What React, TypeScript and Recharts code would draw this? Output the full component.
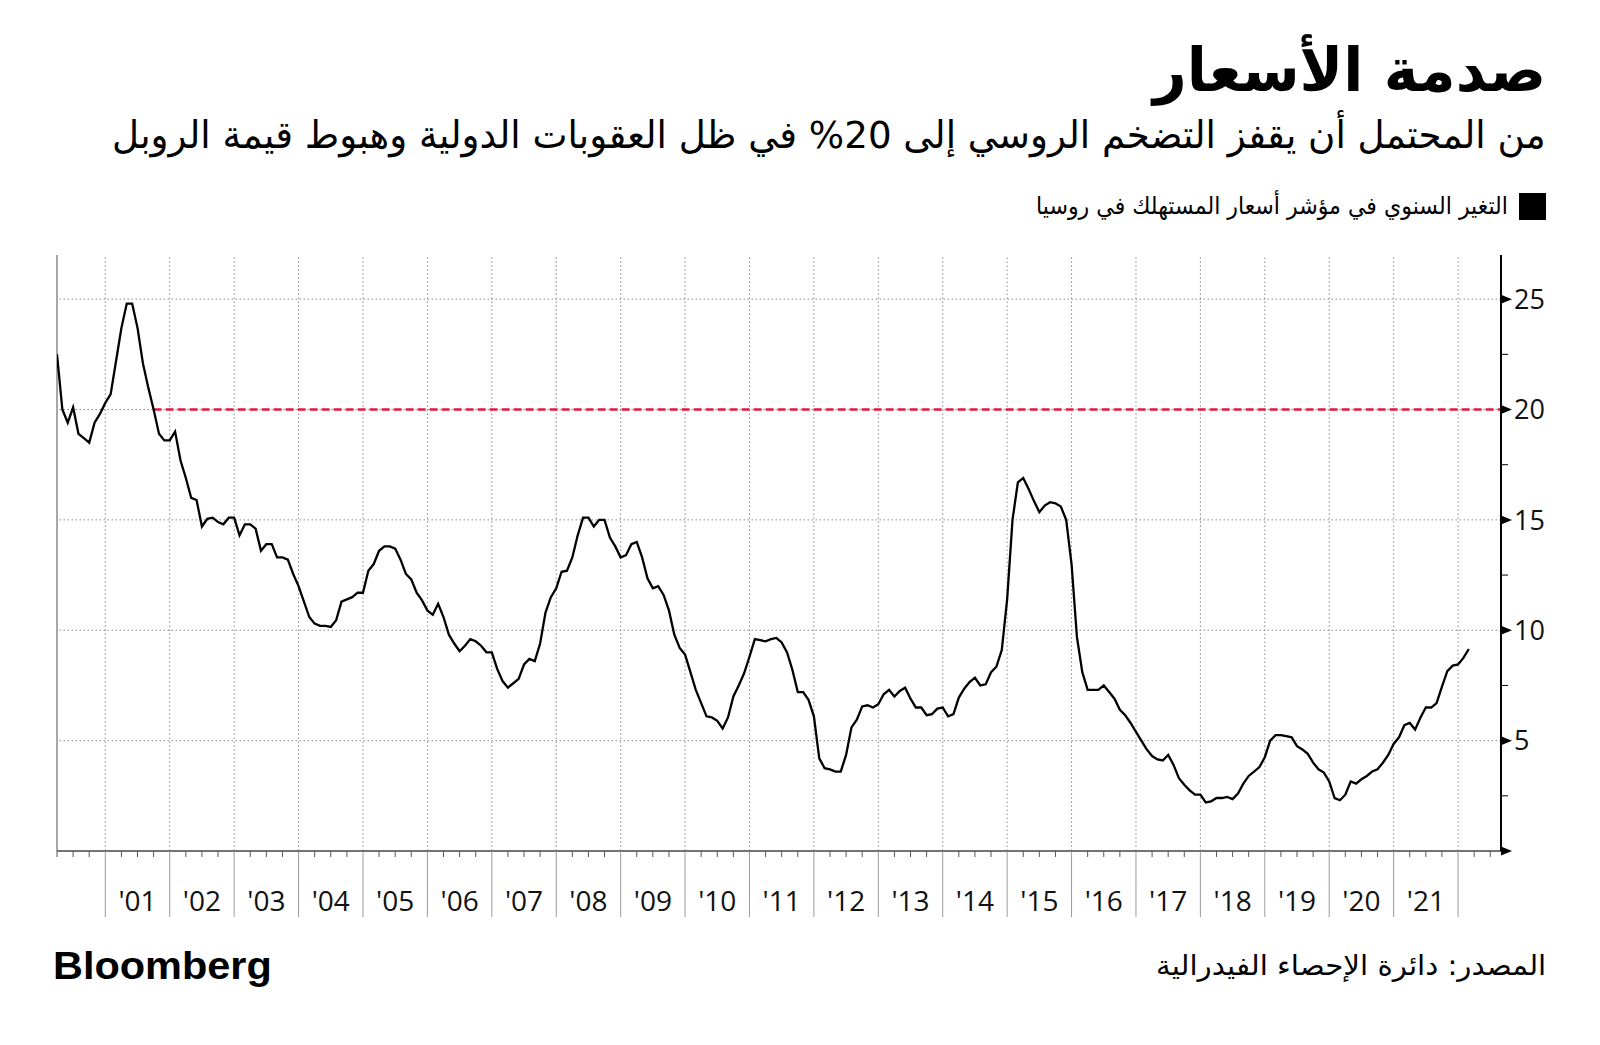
import React, { useLayoutEffect, useRef, useState } from 'react';
import { LineChart, Line, XAxis, YAxis, ReferenceLine } from 'recharts';

// Russian CPI, % change on a year earlier, monthly (2000 starts in March)
const cpi2000 = [22.5, 20.0, 19.4, 20.1, 18.9, 18.7, 18.5, 19.4, 19.8, 20.3];
const cpi2001 = [20.7, 22.2, 23.7, 24.8, 24.8, 23.7, 22.1, 21.0, 20.0, 18.9, 18.6, 18.6];
const cpi2002 = [19.0, 17.7, 16.9, 16.0, 15.9, 14.7, 15.05, 15.1, 14.9, 14.8, 15.1, 15.1];
const cpi2003 = [14.3, 14.8, 14.8, 14.6, 13.6, 13.9, 13.9, 13.3, 13.3, 13.2, 12.55, 12.0];
const cpi2004 = [11.3, 10.6, 10.3, 10.2, 10.2, 10.15, 10.45, 11.3, 11.4, 11.5, 11.7, 11.7];
const cpi2005 = [12.7, 13.0, 13.6, 13.8, 13.8, 13.7, 13.2, 12.55, 12.3, 11.7, 11.35, 10.9];
const cpi2006 = [10.7, 11.2, 10.6, 9.8, 9.4, 9.05, 9.3, 9.6, 9.5, 9.3, 9.0, 9.0];
const cpi2007 = [8.25, 7.7, 7.4, 7.6, 7.8, 8.45, 8.7, 8.6, 9.4, 10.8, 11.5, 11.9];
const cpi2008 = [12.65, 12.7, 13.3, 14.3, 15.1, 15.1, 14.7, 15.0, 15.0, 14.2, 13.8, 13.3];
const cpi2009 = [13.4, 13.9, 14.0, 13.3, 12.35, 11.9, 12.0, 11.6, 10.9, 9.8, 9.2, 8.9];
const cpi2010 = [8.1, 7.3, 6.7, 6.1, 6.05, 5.9, 5.55, 6.05, 7.0, 7.5, 8.05, 8.8];
const cpi2011 = [9.6, 9.55, 9.5, 9.6, 9.65, 9.45, 9.0, 8.2, 7.2, 7.2, 6.85, 6.1];
const cpi2012 = [4.2, 3.75, 3.7, 3.6, 3.6, 4.35, 5.6, 5.95, 6.55, 6.6, 6.5, 6.65];
const cpi2013 = [7.1, 7.3, 7.0, 7.25, 7.4, 6.9, 6.5, 6.5, 6.15, 6.2, 6.45, 6.5];
const cpi2014 = [6.1, 6.2, 6.95, 7.35, 7.65, 7.85, 7.5, 7.55, 8.1, 8.35, 9.1, 11.4];
const cpi2015 = [15.0, 16.7, 16.9, 16.4, 15.85, 15.35, 15.65, 15.8, 15.75, 15.6, 15.0, 13.0];
const cpi2016 = [9.7, 8.1, 7.3, 7.3, 7.3, 7.5, 7.2, 6.9, 6.4, 6.15, 5.8, 5.4];
const cpi2017 = [5.0, 4.6, 4.3, 4.15, 4.1, 4.35, 3.9, 3.3, 3.0, 2.75, 2.55, 2.55];
const cpi2018 = [2.2, 2.25, 2.4, 2.4, 2.45, 2.35, 2.6, 3.05, 3.4, 3.6, 3.8, 4.25];
const cpi2019 = [5.0, 5.25, 5.25, 5.2, 5.15, 4.75, 4.6, 4.4, 4.0, 3.7, 3.55, 3.15];
const cpi2020 = [2.4, 2.3, 2.55, 3.15, 3.05, 3.25, 3.4, 3.6, 3.7, 4.0, 4.35, 4.85];
const cpi2021 = [5.15, 5.7, 5.8, 5.5, 6.05, 6.5, 6.5, 6.7, 7.45, 8.15, 8.4, 8.45];
const cpi2022 = [8.75, 9.15];

const yearLabels = ["'01", "'02", "'03", "'04", "'05", "'06", "'07", "'08", "'09", "'10", "'11",
  "'12", "'13", "'14", "'15", "'16", "'17", "'18", "'19", "'20", "'21"];
const yTicks = [0, 2.5, 5, 7.5, 10, 12.5, 15, 17.5, 20, 22.5, 25];
const targetLevel = 20;

const title = 'صدمة الأسعار';
const subtitle = 'من المحتمل أن يقفز التضخم الروسي إلى 20% في ظل العقوبات الدولية وهبوط قيمة الروبل';
const legendLabel = 'التغير السنوي في مؤشر أسعار المستهلك في روسيا';
const sourceLabel = 'المصدر: دائرة الإحصاء الفيدرالية';

const yearSeries = [cpi2000, cpi2001, cpi2002, cpi2003, cpi2004, cpi2005, cpi2006, cpi2007,
  cpi2008, cpi2009, cpi2010, cpi2011, cpi2012, cpi2013, cpi2014, cpi2015, cpi2016, cpi2017,
  cpi2018, cpi2019, cpi2020, cpi2021, cpi2022];
const firstMonth = 3;

// t = months since start of 2000, each value sits at the end of its month
const data = yearSeries.flatMap((vals, i) =>
  vals.map((v, j) => ({ t: i * 12 + (i === 0 ? firstMonth + j : j + 1), cpi: v }))
);
const tMin = 3;
const tMax = 272;
const quarterTicks: number[] = [];
for (let t = tMin; t <= 270; t += 3) quarterTicks.push(t);
const yearLines = quarterTicks.filter((t) => t % 12 === 0);

const numFont = '"Open Sans", "Noto Sans", sans-serif';
const arFont = '"DejaVu Sans", sans-serif';

function XTick(props: any) {
  const { x, y, payload } = props;
  const t = payload.value;
  if (t % 12 === 0) {
    return <line x1={x} x2={x} y1={y} y2={y + 66} stroke="#9a9a9a" strokeWidth={1} />;
  }
  const k = (t - 6) / 12;
  const label = t % 12 === 6 ? yearLabels[k - 1] : undefined;
  return (
    <g>
      <line x1={x} x2={x} y1={y} y2={y + 6} stroke="#555" strokeWidth={1} />
      {label && (
        <text x={x} y={y + 60} textAnchor="middle" fontSize={28} fontFamily={numFont} fill="#111">
          {label}
        </text>
      )}
    </g>
  );
}

function YTick(props: any) {
  const { x, y, payload } = props;
  const v = payload.value;
  if (v % 5 !== 0) {
    return <line x1={x} x2={x + 7} y1={y} y2={y} stroke="#000" strokeWidth={1} />;
  }
  return (
    <g>
      <path d={`M${x},${y - 4.5} L${x + 11},${y} L${x},${y + 4.5} Z`} fill="#000" />
      {v > 0 && (
        <text x={x + 13} y={y} dy="0.36em" fontSize={27} fontFamily={numFont} fill="#111">
          {v}
        </text>
      )}
    </g>
  );
}

function FitText(props: {
  text: string;
  edge: number;
  top: number;
  width: number;
  size: number;
  weight?: number;
  family: string;
  ltr?: boolean;
}) {
  const { text, edge, top, width, size, weight = 400, family, ltr } = props;
  const ref = useRef<HTMLSpanElement>(null);
  const [sx, setSx] = useState(1);
  useLayoutEffect(() => {
    if (ref.current) {
      const w = ref.current.offsetWidth;
      if (w > 0) setSx(width / w);
    }
  }, [text, width]);
  const pos = ltr ? { left: edge } : { right: 1600 - edge };
  return (
    <span
      ref={ref}
      dir={ltr ? 'ltr' : 'rtl'}
      style={{
        position: 'absolute',
        ...pos,
        top,
        fontSize: size,
        fontWeight: weight,
        fontFamily: family,
        lineHeight: 1,
        whiteSpace: 'nowrap',
        color: '#000',
        transform: `scaleX(${sx})`,
        transformOrigin: ltr ? 'left center' : 'right center',
      }}
    >
      {text}
    </span>
  );
}

export default function App() {
  return (
    <div style={{ position: 'absolute', left: 0, top: 0, width: 1600, height: 1045, background: '#fff', overflow: 'hidden' }}>
      <LineChart width={1600} height={1045} data={data} margin={{ top: 255, right: 39, bottom: 114, left: 57 }}>
        <XAxis
          dataKey="t"
          type="number"
          domain={[tMin, tMax]}
          ticks={quarterTicks}
          interval={0}
          tick={<XTick />}
          tickSize={0}
          tickMargin={0}
          tickLine={false}
          axisLine={{ stroke: '#444', strokeWidth: 1.5 }}
          height={80}
          allowDataOverflow
        />
        <YAxis
          orientation="right"
          type="number"
          domain={[0, 27]}
          ticks={yTicks}
          interval={0}
          tick={<YTick />}
          tickSize={0}
          tickMargin={0}
          tickLine={false}
          axisLine={{ stroke: '#000', strokeWidth: 2 }}
          width={60}
          allowDataOverflow
        />
        <ReferenceLine x={tMin} stroke="#8a8a8a" strokeWidth={1.5} />
        {yearLines.map((t) => (
          <ReferenceLine key={'v' + t} x={t} stroke="#8a8a8a" strokeWidth={1} strokeDasharray="1.5 2.5" />
        ))}
        {yTicks.filter((v) => v > 0 && v % 5 === 0).map((v) => (
          <ReferenceLine key={'h' + v} y={v} stroke="#8a8a8a" strokeWidth={1} strokeDasharray="1.5 2.5" />
        ))}
        <ReferenceLine
          segment={[{ x: 21, y: targetLevel }, { x: tMax, y: targetLevel }]}
          stroke="#e5173f"
          strokeWidth={2.6}
          strokeDasharray="8 4"
        />
        <Line
          type="linear"
          dataKey="cpi"
          stroke="#000"
          strokeWidth={2.3}
          dot={false}
          activeDot={false}
          isAnimationActive={false}
        />
      </LineChart>

      <FitText text={title} edge={1546} top={40} width={393} size={60} weight={700} family={arFont} />
      <FitText text={subtitle} edge={1546} top={116} width={1434} size={38} family={arFont} />
      <div style={{ position: 'absolute', left: 1519, top: 193, width: 27, height: 27, background: '#000' }} />
      <FitText text={legendLabel} edge={1508} top={194} width={472} size={24} family={arFont} />
      <FitText text={sourceLabel} edge={1546} top={952} width={390} size={28} family={arFont} />
      <FitText text="Bloomberg" edge={53} top={946} width={219} size={39} weight={900} family={'"Liberation Sans", Arial, sans-serif'} ltr />
    </div>
  );
}
